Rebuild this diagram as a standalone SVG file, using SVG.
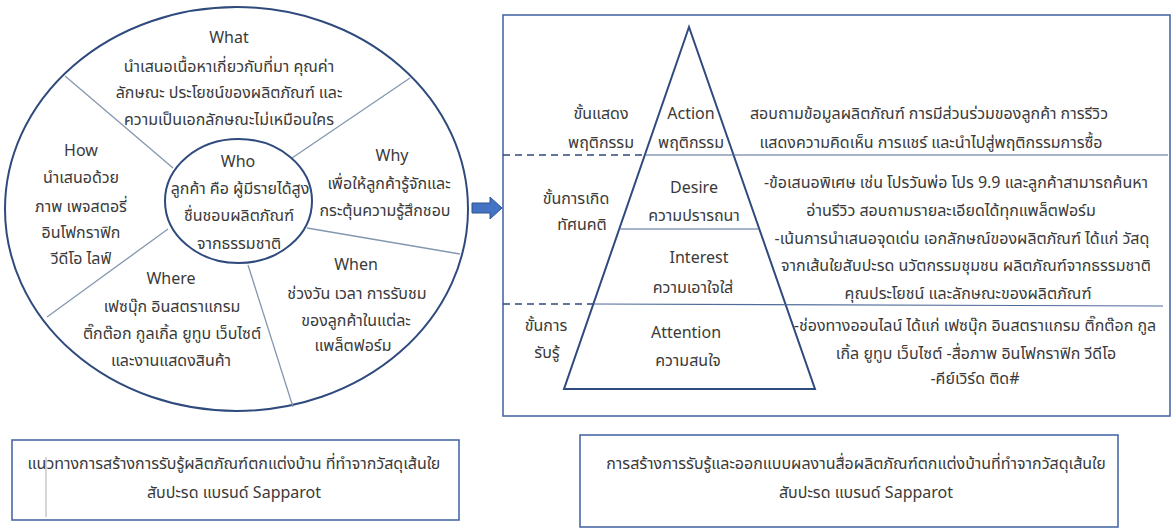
<svg xmlns="http://www.w3.org/2000/svg" width="1172" height="530" viewBox="0 0 1172 530">
<style>
text{font-family:"Noto Sans","Noto Sans Thai","Leelawadee UI",Tahoma,sans-serif;font-size:16px;fill:#3a3a3a;text-anchor:middle}
.outline{fill:none;stroke:#2f4a7d;stroke-width:2}
.div{stroke:#8497b0;stroke-width:1.3;fill:none}
.box{fill:#fff;stroke:#4a6aa8;stroke-width:1.6}
.hl{stroke:#4f6b9a;stroke-width:1.2;fill:none}
.dash{stroke:#2f4a7d;stroke-width:1.6;stroke-dasharray:7 5;fill:none}
</style>
<rect width="1172" height="530" fill="#fff"/>

<g id="wheel">
<ellipse class="outline" cx="236.5" cy="209" rx="231.5" ry="202"/>
<line class="div" x1="65" y1="76" x2="173" y2="168"/>
<line class="div" x1="410" y1="78" x2="292" y2="158"/>
<line class="div" x1="307" y1="228" x2="460" y2="254"/>
<line class="div" x1="248" y1="265" x2="293" y2="407"/>
<line class="div" x1="168" y1="229" x2="47" y2="317"/>
</g>

<g id="what">
<text x="229" y="43">What</text>
<text x="229" y="72">นำเสนอเนื้อหาเกี่ยวกับที่มา คุณค่า</text>
<text x="229" y="98">ลักษณะ ประโยชน์ของผลิตภัณฑ์ และ</text>
<text x="229" y="125">ความเป็นเอกลักษณะไม่เหมือนใคร</text>
</g>
<g id="how">
<text x="81" y="156">How</text>
<text x="81" y="183">นำเสนอด้วย</text>
<text x="81" y="212">ภาพ เพจสตอรี่</text>
<text x="81" y="238">อินโฟกราฟิก</text>
<text x="81" y="264">วีดีโอ ไลฟ์</text>
</g>
<g id="why">
<text x="392" y="161">Why</text>
<text x="389" y="189">เพื่อให้ลูกค้ารู้จักและ</text>
<text x="385" y="216">กระตุ้นความรู้สึกชอบ</text>
</g>
<g id="where">
<text x="171" y="284">Where</text>
<text x="172" y="312">เฟซบุ๊ก อินสตราแกรม</text>
<text x="172" y="339">ติ๊กต๊อก กูลเกิ้ล ยูทูบ เว็บไซต์</text>
<text x="171" y="366">และงานแสดงสินค้า</text>
</g>
<g id="when">
<text x="356" y="270">When</text>
<text x="357" y="299">ช่วงวัน เวลา การรับชม</text>
<text x="356" y="326">ของลูกค้าในแต่ละ</text>
<text x="353" y="351">แพล็ตฟอร์ม</text>
</g>
<g id="who">
<ellipse class="outline" cx="238.5" cy="201" rx="73.5" ry="62" fill="#fff"/>
<text x="238" y="167">Who</text>
<text x="240" y="194">ลูกค้า คือ ผู้มีรายได้สูง</text>
<text x="239" y="221">ชื่นชอบผลิตภัณฑ์</text>
<text x="239" y="249">จากธรรมชาติ</text>
</g>

<g id="connectors">
<path d="M472,203 H490 V197 L502,208 L490,219 V213 H472 Z" fill="#4472c4" stroke="#2f528f" stroke-width="1"/>
</g>

<g id="aida">
<rect class="box" x="503" y="15" width="667" height="401" stroke="#2f4a7d"/>
<path class="outline" d="M689,27 L564,389 H815 Z"/>
<line class="dash" x1="503" y1="155" x2="645" y2="155"/>
<line class="hl" x1="645" y1="155" x2="1168" y2="155"/>
<line class="hl" x1="619" y1="229" x2="759" y2="229"/>
<line class="dash" x1="503" y1="304" x2="594" y2="304"/>
<line class="hl" x1="594" y1="304" x2="1163" y2="306"/>
</g>
<g id="action">
<text x="601" y="119">ขั้นแสดง</text>
<text x="601" y="148">พฤติกรรม</text>
<text x="691" y="119">Action</text>
<text x="691" y="148">พฤติกรรม</text>
<text x="929" y="119">สอบถามข้อมูลผลิตภัณฑ์ การมีส่วนร่วมของลูกค้า การรีวิว</text>
<text x="931" y="148">แสดงความคิดเห็น การแชร์ และนำไปสู่พฤติกรรมการซื้อ</text>
</g>
<g id="desire-interest">
<text x="576" y="204">ขั้นการเกิด</text>
<text x="582" y="230">ทัศนคติ</text>
<text x="694" y="193">Desire</text>
<text x="694" y="221">ความปรารถนา</text>
<text x="699" y="263">Interest</text>
<text x="693" y="293">ความเอาใจใส่</text>
<text x="956" y="188">-ข้อเสนอพิเศษ เช่น โปรวันพ่อ โปร 9.9 และลูกค้าสามารถค้นหา</text>
<text x="951" y="216">อ่านรีวิว สอบถามรายละเอียดได้ทุกแพล็ตฟอร์ม</text>
<text x="962" y="244">-เน้นการนำเสนอจุดเด่น เอกลักษณ์ของผลิตภัณฑ์ ได้แก่ วัสดุ</text>
<text x="966" y="271">จากเส้นใยสับปะรด นวัตกรรมชุมชน ผลิตภัณฑ์จากธรรมชาติ</text>
<text x="968" y="299">คุณประโยชน์ และลักษณะของผลิตภัณฑ์</text>
</g>
<g id="attention">
<text x="546" y="331">ขั้นการ</text>
<text x="547" y="358">รับรู้</text>
<text x="686" y="338">Attention</text>
<text x="688" y="366">ความสนใจ</text>
<text x="975" y="331">-ช่องทางออนไลน์ ได้แก่ เฟซบุ๊ก อินสตราแกรม ติ๊กต๊อก กูล</text>
<text x="976" y="359">เกิ้ล ยูทูบ เว็บไซต์ -สื่อภาพ อินโฟกราฟิก วีดีโอ</text>
<text x="975" y="384">-คีย์เวิร์ด ติด#</text>
</g>

<g id="caption-left">
<rect class="box" x="12" y="440" width="447" height="80"/>
<line x1="46" y1="457" x2="46" y2="517" stroke="#9a9a9a" stroke-width="0.8"/>
<text x="234" y="469">แนวทางการสร้างการรับรู้ผลิตภัณฑ์ตกแต่งบ้าน ที่ทำจากวัสดุเส้นใย</text>
<text x="234" y="498">สับปะรด แบรนด์ Sapparot</text>
</g>
<g id="caption-right">
<rect class="box" x="580" y="435" width="538" height="92"/>
<text x="856" y="469">การสร้างการรับรู้และออกแบบผลงานสื่อผลิตภัณฑ์ตกแต่งบ้านที่ทำจากวัสดุเส้นใย</text>
<text x="866" y="498">สับปะรด แบรนด์ Sapparot</text>
</g>
</svg>
